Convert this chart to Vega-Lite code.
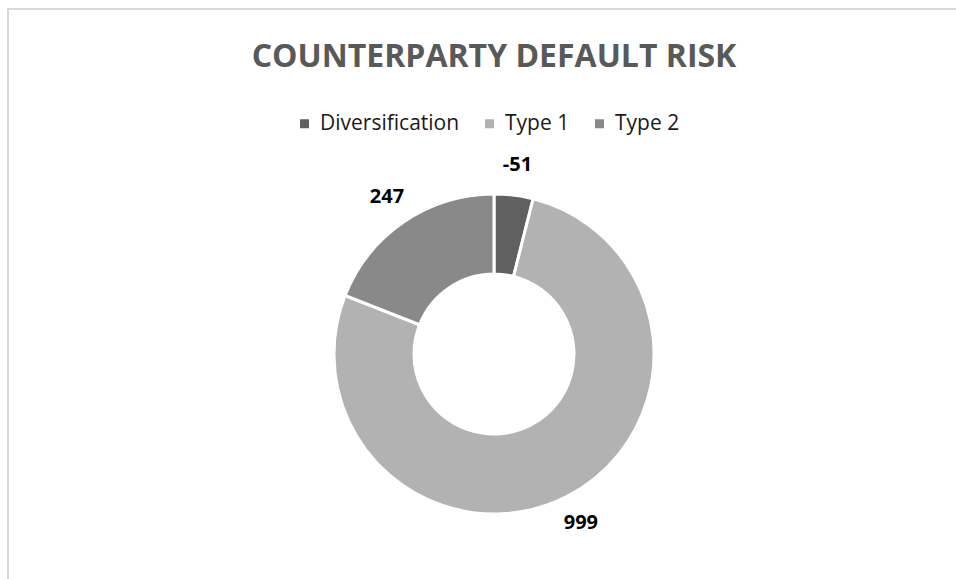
{
  "$schema": "https://vega.github.io/schema/vega-lite/v6.json",
  "autosize": {"type": "none"},
  "width": 972,
  "height": 690,
  "padding": {"left": 8, "top": 9, "right": 0, "bottom": 0},
  "background": "white",
  "view": {"stroke": "#d9d9d9", "strokeWidth": 2},
  "title": {
    "text": "COUNTERPARTY DEFAULT RISK",
    "font": "Open Sans",
    "fontSize": 32,
    "fontWeight": "bold",
    "color": "#595959",
    "anchor": "middle",
    "frame": "group",
    "orient": "top",
    "baseline": "alphabetic",
    "offset": -90
  },
  "data": {
    "values": [
      {"category": "Diversification", "value": -51},
      {"category": "Type 1", "value": 999},
      {"category": "Type 2", "value": 247}
    ]
  },
  "transform": [{"calculate": "abs(datum.value)", "as": "size"}],
  "encoding": {
    "theta": {"field": "size", "type": "quantitative", "stack": true},
    "order": {"field": "category", "type": "nominal", "sort": "ascending"}
  },
  "layer": [
    {
      "mark": {"type": "arc", "outerRadius": 160, "innerRadius": 80, "stroke": "white", "strokeWidth": 3},
      "encoding": {
        "color": {
          "field": "category",
          "type": "nominal",
          "scale": {"domain": ["Diversification", "Type 1", "Type 2"], "range": ["#606060", "#b2b2b2", "#898989"]},
          "legend": {
            "title": null,
            "orient": "none",
            "direction": "horizontal",
            "legendX": 286,
            "legendY": 104,
            "symbolType": "square",
            "symbolSize": 81,
            "symbolStrokeWidth": 0,
            "labelFont": "Open Sans",
            "labelFontSize": 21,
            "labelColor": "#1a1a1a",
            "columnPadding": 19,
            "labelOffset": 5
          }
        }
      }
    },
    {
      "mark": {"type": "text", "radius": 190, "font": "Open Sans", "fontSize": 20, "fontWeight": "bold", "color": "black"},
      "encoding": {
        "text": {"field": "value", "type": "nominal"}
      }
    }
  ]
}
